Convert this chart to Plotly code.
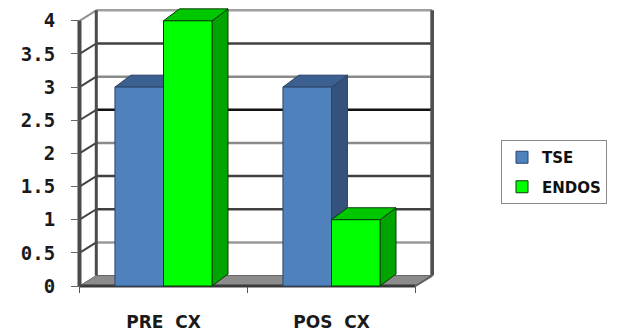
import plotly.graph_objects as go

# ---------------- data ----------------
categories = ["PRE\u00a0\u00a0CX", "POS\u00a0\u00a0CX"]
series_names = ["TSE", "ENDOS"]
tse_values = [3, 3]
endos_values = [4, 1]
y_tick_values = [0, 0.5, 1, 1.5, 2, 2.5, 3, 3.5, 4]
y_tick_labels = ["0", "0.5", "1", "1.5", "2", "2.5", "3", "3.5", "4"]

# ---------------- styles / geometry ----------------
series_values = [tse_values, endos_values]
front_colors = ["#4F81BD", "#00FF00"]
side_colors = ["#34527C", "#00A400"]
top_colors = ["#3C6090", "#00C800"]
edge_colors = ["#2B4468", "#0A3A0A"]

BAR_W = 0.289
BAR_DX, BAR_DY = 0.095, 0.18
WALL_DX, WALL_DY = 0.10, 0.158
X_RANGE = [-0.5208, 1.6101]
Y_RANGE = [-0.0452, 4.1931]

positions = list(range(len(categories)))
offsets = [-BAR_W, 0.0]
x_left = positions[0] - 0.5
x_right = positions[-1] + 0.5
y_top = y_tick_values[-1]

fig = go.Figure()

# 3D side and top faces (main subplot, drawn under the bar fronts)
for i, pos in enumerate(positions):
    for s in range(len(series_names)):
        h = series_values[s][i]
        xl = pos + offsets[s]
        xr = xl + BAR_W
        side_x = [xr, xr, xr + BAR_DX, xr + BAR_DX, xr]
        side_y = [0, h, h + BAR_DY, BAR_DY, 0]
        top_x = [xl, xr, xr + BAR_DX, xl + BAR_DX, xl]
        top_y = [h, h, h + BAR_DY, h + BAR_DY, h]
        fig.add_trace(go.Scatter(x=side_x, y=side_y, mode="lines", fill="toself",
                                 fillcolor=side_colors[s],
                                 line=dict(color=edge_colors[s], width=1),
                                 showlegend=False, hoverinfo="skip"))
        fig.add_trace(go.Scatter(x=top_x, y=top_y, mode="lines", fill="toself",
                                 fillcolor=top_colors[s],
                                 line=dict(color=edge_colors[s], width=1),
                                 showlegend=False, hoverinfo="skip"))

# bar fronts (overlay subplot, drawn above the faces)
for s, name in enumerate(series_names):
    fig.add_trace(go.Bar(x=positions, y=series_values[s], name=name,
                         offset=offsets[s], width=BAR_W,
                         marker=dict(color=front_colors[s],
                                     line=dict(color=edge_colors[s], width=1)),
                         legendgroup=name,
                         xaxis="x2", yaxis="y2"))

# ---------------- walls, floor, gridlines ----------------
shapes = []
bx0 = x_left + WALL_DX
bx1 = x_right + WALL_DX
grid_colors = {0.5: "#9A9A9A", 1: "#404040", 1.5: "#404040", 2: "#8A8A8A",
               2.5: "#111111", 3: "#8A8A8A", 3.5: "#404040"}
for v in y_tick_values[1:-1]:
    c = grid_colors.get(v, "#555555")
    shapes.append(dict(type="line", xref="x", yref="y", x0=bx0, x1=bx1,
                       y0=v + WALL_DY, y1=v + WALL_DY, layer="below",
                       line=dict(color=c, width=2.5)))
    shapes.append(dict(type="line", xref="x", yref="y", x0=x_left, x1=bx0,
                       y0=v, y1=v + WALL_DY, layer="below",
                       line=dict(color="#444444", width=2)))
# floor
shapes.append(dict(type="path", xref="x", yref="y", layer="below",
                   path=f"M {x_left} 0 L {x_right} 0 L {bx1} {WALL_DY} L {bx0} {WALL_DY} Z",
                   fillcolor="#8C8C8C", line=dict(color="#666666", width=1)))
shapes.append(dict(type="line", xref="x", yref="y", x0=x_left, x1=x_right, y0=0, y1=0,
                   layer="below", line=dict(color="#3A3A3A", width=3)))
# back wall top edge
shapes.append(dict(type="line", xref="x", yref="y", x0=bx0, x1=bx1,
                   y0=y_top + WALL_DY, y1=y_top + WALL_DY, layer="below",
                   line=dict(color="#A0A0A0", width=2.5)))
# left wall top diagonal
shapes.append(dict(type="line", xref="x", yref="y", x0=x_left, x1=bx0,
                   y0=y_top, y1=y_top + WALL_DY, layer="below",
                   line=dict(color="#909090", width=2)))
# back-left vertical
shapes.append(dict(type="line", xref="x", yref="y", x0=bx0, x1=bx0,
                   y0=WALL_DY, y1=y_top + WALL_DY, layer="below",
                   line=dict(color="#4A4A4A", width=3)))
# front-left vertical
shapes.append(dict(type="line", xref="x", yref="y", x0=x_left, x1=x_left,
                   y0=0, y1=y_top, layer="below",
                   line=dict(color="#4A4A4A", width=4)))
# back-right vertical
shapes.append(dict(type="line", xref="x", yref="y", x0=bx1, x1=bx1,
                   y0=WALL_DY, y1=y_top + WALL_DY, layer="below",
                   line=dict(color="#505050", width=4)))
# floor right edge
shapes.append(dict(type="line", xref="x", yref="y", x0=x_right, x1=bx1,
                   y0=0, y1=WALL_DY, layer="below",
                   line=dict(color="#606060", width=2)))

W, H = 622, 333
ML, MR, MT, MB = 76, 188, 8, 44
plot_w = W - ML - MR
plot_h = H - MT - MB

fig.update_layout(
    width=W, height=H,
    margin=dict(l=ML, r=MR, t=MT, b=MB, pad=0, autoexpand=False),
    paper_bgcolor="white", plot_bgcolor="white",
    barmode="overlay",
    shapes=shapes,
    showlegend=True,
    legend=dict(x=(501 - ML) / plot_w, y=(MT + plot_h - 140) / plot_h,
                xanchor="left", yanchor="top",
                bordercolor="#8A8A8A", borderwidth=1,
                font=dict(family="DejaVu Sans", size=15, color="#111111", weight="bold"),
                tracegroupgap=7, itemwidth=30,
                entrywidth=78, entrywidthmode="pixels"),
    xaxis=dict(range=X_RANGE, showgrid=False, zeroline=False, showline=False,
               tickmode="array", tickvals=positions, ticktext=categories,
               ticks="", tickfont=dict(family="DejaVu Sans", size=17,
                                       color="#1A1A1A", weight="bold"),
               ticklabelstandoff=24,
               minor=dict(tickmode="array", tickvals=[p - 0.5 for p in positions] + [x_right],
                          ticks="outside", ticklen=6, tickcolor="#555555", tickwidth=1,
                          showgrid=False),
               anchor="free", position=3 / plot_h),
    yaxis=dict(range=Y_RANGE, showgrid=False, zeroline=False, showline=False,
               tickmode="array", tickvals=y_tick_values, ticktext=y_tick_labels,
               ticks="outside", ticklen=8, tickcolor="#666666", tickwidth=1,
               tickfont=dict(family="DejaVu Sans Mono", size=19,
                             color="#1A1A1A", weight="bold"),
               ticklabelstandoff=12,
               anchor="free", position=3 / plot_w),
    xaxis2=dict(range=X_RANGE, overlaying="x", visible=False),
    yaxis2=dict(range=Y_RANGE, overlaying="y", visible=False),
)

fig.write_html("out.html")
